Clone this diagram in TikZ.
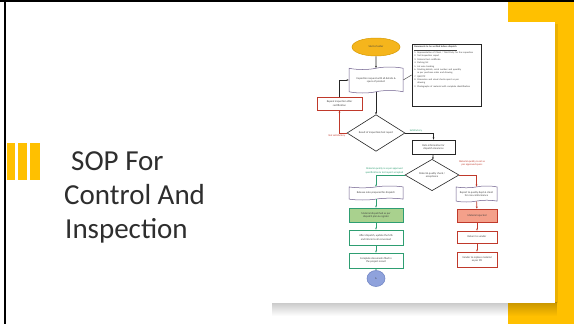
\documentclass[tikz,border=0pt]{standalone}
\usepackage{fontspec}
\setmainfont{Carlito}
\usetikzlibrary{shapes.geometric,shapes.symbols,arrows.meta,fadings}
\definecolor{gold}{HTML}{FFC000}
\definecolor{startfill}{HTML}{F5B51C}
\definecolor{startline}{HTML}{D79A00}
\definecolor{redline}{HTML}{C0392B}
\definecolor{greenline}{HTML}{2E9E72}
\definecolor{greenfill}{HTML}{A9D18E}
\definecolor{salmon}{HTML}{F4A08A}
\definecolor{tapeline}{HTML}{6E5E8C}
\definecolor{circfill}{HTML}{8FA2DC}
\definecolor{circline}{HTML}{6A7FC0}
\tikzset{
  tiny/.style={font=\fontsize{2.7}{3.2}\selectfont, text=black!75, align=center, inner sep=0.5pt},
  startnode/.style={tiny, ellipse, draw=startline, fill=startfill, line width=0.5pt, minimum width=48pt, minimum height=18pt},
  docnode/.style={tiny, tape, draw=tapeline, line width=0.5pt, fill=white, tape bend height=2.5pt},
  boxblack/.style={tiny, rectangle, draw=black!85, line width=0.7pt, fill=white},
  boxred/.style={tiny, rectangle, draw=redline, line width=0.6pt, fill=white},
  boxgreen/.style={tiny, rectangle, draw=greenline, line width=0.6pt, fill=white},
  decision/.style={tiny, diamond, draw=black!85, line width=0.6pt, fill=white, inner sep=0pt},
  conn/.style={line width=0.6pt, -{Stealth[length=2.2pt,width=1.8pt]}},
  lbl/.style={font=\fontsize{2.6}{3.1}\selectfont, inner sep=0.3pt, align=center},
  titletext/.style={font=\fontsize{29}{34}\selectfont, text=black!82, anchor=base west, inner sep=0pt}
}
\begin{document}
\begin{tikzpicture}[x=1pt,y=-1pt]
\useasboundingbox (0,0) rectangle (574,324);
\fill[white] (0,0) rectangle (574,324);
% right gold bar
\fill[gold] (508,2) rectangle (574,324);
% card shadow
\fill[black, opacity=0.22, path fading=south] (272,302) rectangle (557,316);
\fill[black, opacity=0.08] (555,24) rectangle (557.5,303);
% card
\fill[white] (272,22) rectangle (555,303);
% frame lines
\fill[black] (0,0) rectangle (574,2.2);
\fill[black] (3.6,0) rectangle (5.6,324);
% left gold bars
\fill[gold] (7,143) rectangle (15,180);
\fill[gold] (18,143) rectangle (27,180);
\fill[gold] (30,143) rectangle (40,180);
% title
\node[titletext] (t1) at (71,170) {SOP For};
\node[titletext] (t2) at (64,204.5) {Control And};
\node[titletext] (t3) at (65,238.5) {Inspection};

% flowchart nodes
\node[startnode] (start) at (376,47) {Start of order};
\node[rectangle, draw=black!85, line width=0.8pt, fill=white, minimum width=69pt, minimum height=62pt, inner sep=0pt] (notes) at (446.5,75) {};
\node[anchor=north west, font=\fontsize{2.4}{3.35}\selectfont, text=black!75, align=left, inner sep=0pt, text width=64pt] (notestext) at ([xshift=2.5pt,yshift=-2.5pt]notes.north west) {%
\underline{\textbf{Documents to be verified before dispatch}}\\[0.6pt]
1. Representative of Client / Third Party for the inspection\\
2. Test/Inspection report\\
3. Material test certificate\\
4. Packing list\\
5. Lot wise tracking\\
6. Marking details, serial number and quantity\\\hspace*{3pt}as per purchase order and drawing\\
7. QAP/ITP\\
8. Dimension and visual check report as per\\\hspace*{3pt}drawing\\
9. Photographs of material with complete identification};
\node[docnode, minimum width=54pt, minimum height=26pt] (doc1) at (376,80) {Inspection request with all details \&\\specs of product};
\node[boxred, minimum width=45pt, minimum height=13pt] (repeat) at (339.5,103.5) {Repeat inspection after\\rectification};
\node[decision, minimum width=58pt, minimum height=34pt] (dia1) at (376,133) {Result of inspection/test report};
\node[boxblack, minimum width=43pt, minimum height=14pt] (data) at (433.5,147) {Data information for\\dispatch clearance};
\node[decision, minimum width=54pt, minimum height=26pt] (dia2) at (432,175) {Material quality check /\\acceptance};
\node[docnode, minimum width=54pt, minimum height=14pt, tape bend height=1.8pt] (docL) at (376,193) {Release note prepared for dispatch};
\node[boxgreen, fill=greenfill, minimum width=54pt, minimum height=14pt] (g1) at (376,215) {Material dispatched as per\\dispatch plan \& register};
\node[boxgreen, minimum width=54pt, minimum height=15pt] (g2) at (376,237.5) {After dispatch, update the MIS\\and inform to all concerned};
\node[boxgreen, minimum width=54pt, minimum height=15pt] (g3) at (376,260.5) {Complete documents filed in\\the project record};
\node[tiny, ellipse, draw=circline, fill=circfill, line width=0.5pt, minimum width=18pt, minimum height=16pt] (circ) at (376,278.5) {A};
\node[docnode, minimum width=41pt, minimum height=16pt, tape bend height=1.8pt] (docR) at (476.5,194) {Report to quality dept \& client\\for non-conformance};
\node[boxred, fill=salmon, minimum width=40pt, minimum height=13pt] (r1) at (477,215.5) {Material rejected};
\node[boxred, minimum width=40pt, minimum height=12pt] (r2) at (477,237) {Return to vendor};
\node[boxred, minimum width=40pt, minimum height=15pt] (r3) at (477,259.5) {Vendor to replace material\\as per PO};

% connectors
\draw[conn, black!85] (start) -- (doc1);
\draw[line width=0.5pt, black!70] (doc1.east) -- (notes.west);
\draw[conn, black!85] (repeat.north) |- (doc1.west);
\draw[conn, black!85] (doc1) -- (dia1);
\draw[conn, redline] (dia1.west) -| (repeat.south);
\node[lbl, text=redline, anchor=north east] (lblno) at ([xshift=-1pt,yshift=-1.5pt]dia1.west) {Not satisfactory};
\draw[conn, black!85] (dia1.east) -| (data.north);
\node[lbl, text=greenline, anchor=south west] (lblok) at ([xshift=4pt,yshift=1pt]dia1.east) {Satisfactory};
\draw[conn, black!85] (data) -- (dia2);
\draw[conn, greenline] (dia2.west) -| (docL.north);
\node[lbl, text=greenline, anchor=south east] (lblg) at ([xshift=-1pt,yshift=1pt]dia2.west) {Material quality is as per approved\\specification \& test report accepted};
\draw[conn, redline] (dia2.east) -| (docR.north);
\node[lbl, text=redline] (lblr) at (472,163) {Material quality is not as\\per approved specs};
\draw[conn, greenline] (docL) -- (g1);
\draw[conn, greenline] (g1) -- (g2);
\draw[conn, greenline] (g2) -- (g3);
\draw[conn, greenline] (g3) -- (circ);
\draw[conn, redline] (docR) -- (r1);
\draw[conn, redline] (r1) -- (r2);
\draw[conn, redline] (r2) -- (r3);
\end{tikzpicture}
\end{document}
